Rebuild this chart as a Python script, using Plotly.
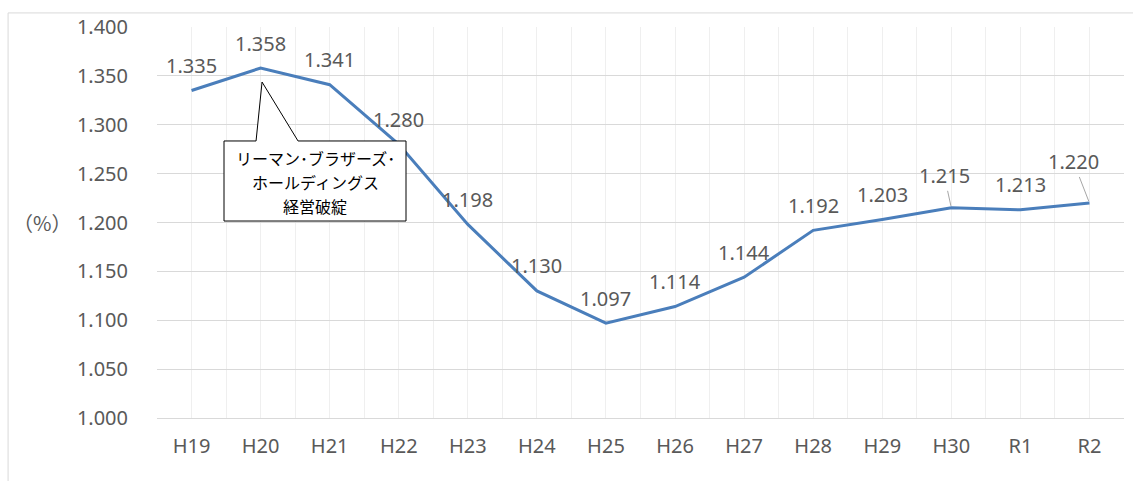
import plotly.graph_objects as go

years = ["H19", "H20", "H21", "H22", "H23", "H24", "H25",
         "H26", "H27", "H28", "H29", "H30", "R1", "R2"]
rates = [1.335, 1.358, 1.341, 1.280, 1.198, 1.130, 1.097,
         1.114, 1.144, 1.192, 1.203, 1.215, 1.213, 1.220]
y_ticks = [1.000, 1.050, 1.100, 1.150, 1.200, 1.250, 1.300, 1.350, 1.400]
callout_lines = ["リーマン･ブラザーズ･", "ホールディングス", "経営破綻"]

FONT = "Noto Sans, Open Sans, sans-serif"
GRAY = "#595959"
x_idx = list(range(len(years)))

fig = go.Figure()
fig.add_trace(go.Scatter(
    x=x_idx, y=rates, mode="lines",
    line=dict(color="#4A7EBB", width=3),
    hoverinfo="skip", showlegend=False
))

# data labels; two of them sit off to the side with a leader line
leaders = {"H30": (-7, -32), "R2": (-16, -41)}
for i, (yr, v) in enumerate(zip(years, rates)):
    if yr in leaders:
        ax, ay = leaders[yr]
        fig.add_annotation(x=i, y=v, text=f"{v:.3f}", showarrow=True,
                           ax=ax, ay=ay, arrowhead=0, arrowwidth=1,
                           arrowcolor="#a6a6a6", standoff=2,
                           font=dict(family=FONT, size=20, color=GRAY))
    else:
        fig.add_annotation(x=i, y=v, text=f"{v:.3f}", showarrow=False,
                           yshift=25, font=dict(family=FONT, size=20, color=GRAY))

# callout box pointing to H20
fig.add_shape(type="path",
              path="M 0.47,1.2834 L 0.934,1.2834 L 1.021,1.3437 L 1.542,1.2834 "
                   "L 3.105,1.2834 L 3.105,1.2015 L 0.47,1.2015 Z",
              xref="x", yref="y", fillcolor="white",
              line=dict(color="black", width=1), layer="above")
for k, line_txt in enumerate(callout_lines):
    fig.add_annotation(x=1.79, y=1.2425, text=line_txt, showarrow=False,
                       xref="x", yref="y", yshift=23 - 24 * k,
                       font=dict(family="Noto Sans CJK JP", size=16, color="black"))

fig.add_annotation(x=-0.087, y=0.5, xref="paper", yref="paper",
                   xanchor="right", text="（%）", showarrow=False,
                   font=dict(family="Noto Sans CJK JP", size=20, color=GRAY))

# outer chart border (top and left edges visible)
fig.add_shape(type="line", xref="paper", yref="paper",
              x0=-0.154, x1=1.02, y0=1.036, y1=1.036,
              line=dict(color="#d9d9d9", width=1))
fig.add_shape(type="line", xref="paper", yref="paper",
              x0=-0.154, x1=-0.154, y0=-0.2, y1=1.036,
              line=dict(color="#d9d9d9", width=1))

fig.update_xaxes(
    range=[-0.5, len(years) - 0.5],
    tickvals=x_idx, ticktext=years,
    showgrid=True, gridcolor="#efefef",
    minor=dict(dtick=0.5, tick0=0.5, showgrid=True, gridcolor="#efefef"),
    showline=True, linecolor="#d9d9d9", zeroline=False,
    ticks="", ticklabelstandoff=10,
    tickfont=dict(family=FONT, size=20, color=GRAY)
)
fig.update_yaxes(
    range=[1.0, 1.4],
    tickvals=y_ticks, ticktext=[f"{t:.3f}" for t in y_ticks],
    showgrid=True, gridcolor="#d9d9d9", zeroline=False,
    ticks="", ticklabelstandoff=28,
    tickfont=dict(family=FONT, size=20, color=GRAY)
)
fig.update_layout(
    width=1133, height=481,
    margin=dict(l=157, r=9, t=27, b=63),
    plot_bgcolor="white", paper_bgcolor="white"
)

fig.write_html("out.html", config={"displayModeBar": False},
               post_script="document.body.style.margin='0';")
